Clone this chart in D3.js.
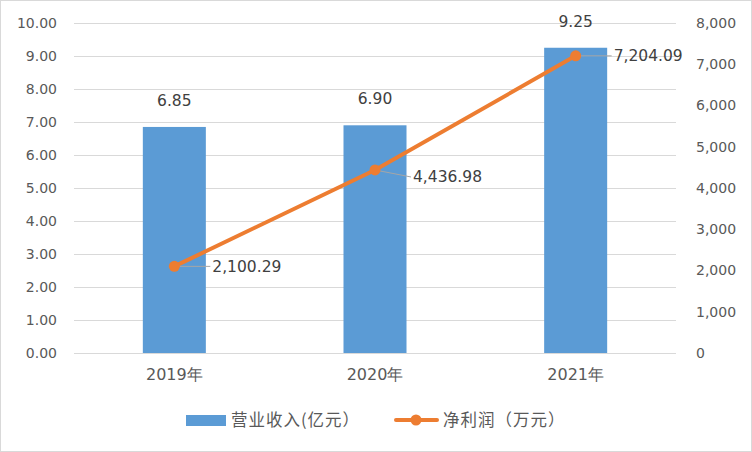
<!DOCTYPE html>
<html><head><meta charset="utf-8">
<script src="https://cdn.jsdelivr.net/npm/d3@7"></script>
<style>body{margin:0;background:#fff}svg{display:block}</style>
</head><body>
<svg id="c" width="752" height="452"></svg>
<script>
const categories = ["2019年", "2020年", "2021年"];
const revenue = [6.85, 6.90, 9.25];
const profit = [2100.29, 4436.98, 7204.09];
const leftTicks = [0,1,2,3,4,5,6,7,8,9,10];
const rightTicks = [0,1000,2000,3000,4000,5000,6000,7000,8000];
const seriesNames = ["营业收入(亿元）", "净利润（万元）"];

const svg = d3.select("#c");
const W = 752, H = 452;
const m = {l:74, r:76, t:23, b:99};
const font = "'DejaVu Sans', sans-serif";
const cjk = "'Noto Sans CJK SC', sans-serif";
const txt = "#595959";

svg.append("rect").attr("x",0.5).attr("y",0.5).attr("width",W-1).attr("height",H-1)
  .attr("fill","#fff").attr("stroke","#d9d9d9");

const x = d3.scaleBand().domain(categories).range([m.l, W-m.r]).paddingInner(0.686).paddingOuter(0.343);
const yL = d3.scaleLinear().domain([0,10]).range([H-m.b, m.t]);
const yR = d3.scaleLinear().domain([0,8000]).range([H-m.b, m.t]);

// gridlines
svg.append("g").selectAll("line").data(leftTicks).join("line")
  .attr("x1", m.l).attr("x2", W-m.r)
  .attr("y1", d=>yL(d)+0.5).attr("y2", d=>yL(d)+0.5)
  .attr("stroke","#d9d9d9").attr("stroke-width",1);

// left axis
const axL = d3.axisLeft(yL).tickValues(leftTicks).tickFormat(d3.format(".2f")).tickSize(0).tickPadding(17);
const gL = svg.append("g").attr("transform",`translate(${m.l},0)`).call(axL);
gL.select(".domain").remove();
gL.selectAll("text").attr("fill",txt).style("font-family",font).style("font-size","14px");

// right axis
const axR = d3.axisRight(yR).tickValues(rightTicks).tickFormat(d3.format(",")).tickSize(0).tickPadding(20);
const gR = svg.append("g").attr("transform",`translate(${W-m.r},0)`).call(axR);
gR.select(".domain").remove();
gR.selectAll("text").attr("fill",txt).style("font-family",font).style("font-size","14px");

// x axis
const axB = d3.axisBottom(x).tickSize(0).tickPadding(16);
const gB = svg.append("g").attr("transform",`translate(0,${H-m.b})`).call(axB);
gB.select(".domain").remove();
gB.selectAll("text").attr("fill",txt).style("font-family",font).style("font-size","16px");

// bars
svg.append("g").selectAll("rect").data(revenue).join("rect")
  .attr("x",(d,i)=>x(categories[i])).attr("width",x.bandwidth())
  .attr("y",d=>yL(d)).attr("height",d=>yL(0)-yL(d)).attr("fill","#5b9bd5");

svg.append("g").selectAll("text").data(revenue).join("text")
  .attr("x",(d,i)=>x(categories[i])+x.bandwidth()/2).attr("y",d=>yL(d)-21)
  .attr("text-anchor","middle").attr("fill","#404040")
  .style("font-family",font).style("font-size","15.5px").text(d=>d3.format(".2f")(d));

// line
const cx = i => x(categories[i]) + x.bandwidth()/2;
const line = d3.line().x((d,i)=>cx(i)).y(d=>yR(d));
svg.append("path").datum(profit).attr("d",line).attr("fill","none")
  .attr("stroke","#ed7d31").attr("stroke-width",4).attr("stroke-linecap","round");

// leader lines and labels
const labOff = [{dx:38, dy:0}, {dx:38, dy:7}, {dx:38, dy:0}];
svg.append("g").selectAll("line").data(profit).join("line")
  .attr("x1",(d,i)=>cx(i)).attr("y1",d=>yR(d))
  .attr("x2",(d,i)=>cx(i)+labOff[i].dx-2).attr("y2",(d,i)=>yR(d)+labOff[i].dy)
  .attr("stroke","#a6a6a6").attr("stroke-width",1);

svg.append("g").selectAll("circle").data(profit).join("circle")
  .attr("cx",(d,i)=>cx(i)).attr("cy",d=>yR(d)).attr("r",5.5).attr("fill","#ed7d31");

svg.append("g").selectAll("text").data(profit).join("text")
  .attr("x",(d,i)=>cx(i)+labOff[i].dx).attr("y",(d,i)=>yR(d)+labOff[i].dy)
  .attr("dy","0.35em").attr("fill","#404040")
  .style("font-family",font).style("font-size","15.5px").text(d=>d3.format(",.2f")(d));

// legend
const lg = svg.append("g");
lg.append("rect").attr("x",186).attr("y",415).attr("width",40).attr("height",11).attr("fill","#5b9bd5");
lg.append("text").attr("x",231).attr("y",420).attr("dy","0.35em").attr("fill",txt)
  .style("font-family",cjk).style("font-size","16.5px").style("letter-spacing","1px").text(seriesNames[0]);
lg.append("line").attr("x1",396).attr("x2",437).attr("y1",420).attr("y2",420)
  .attr("stroke","#ed7d31").attr("stroke-width",4).attr("stroke-linecap","round");
lg.append("circle").attr("cx",416).attr("cy",420).attr("r",5.5).attr("fill","#ed7d31");
lg.append("text").attr("x",443).attr("y",420).attr("dy","0.35em").attr("fill",txt)
  .style("font-family",cjk).style("font-size","16.5px").style("letter-spacing","1px").text(seriesNames[1]);
</script>
</body></html>
